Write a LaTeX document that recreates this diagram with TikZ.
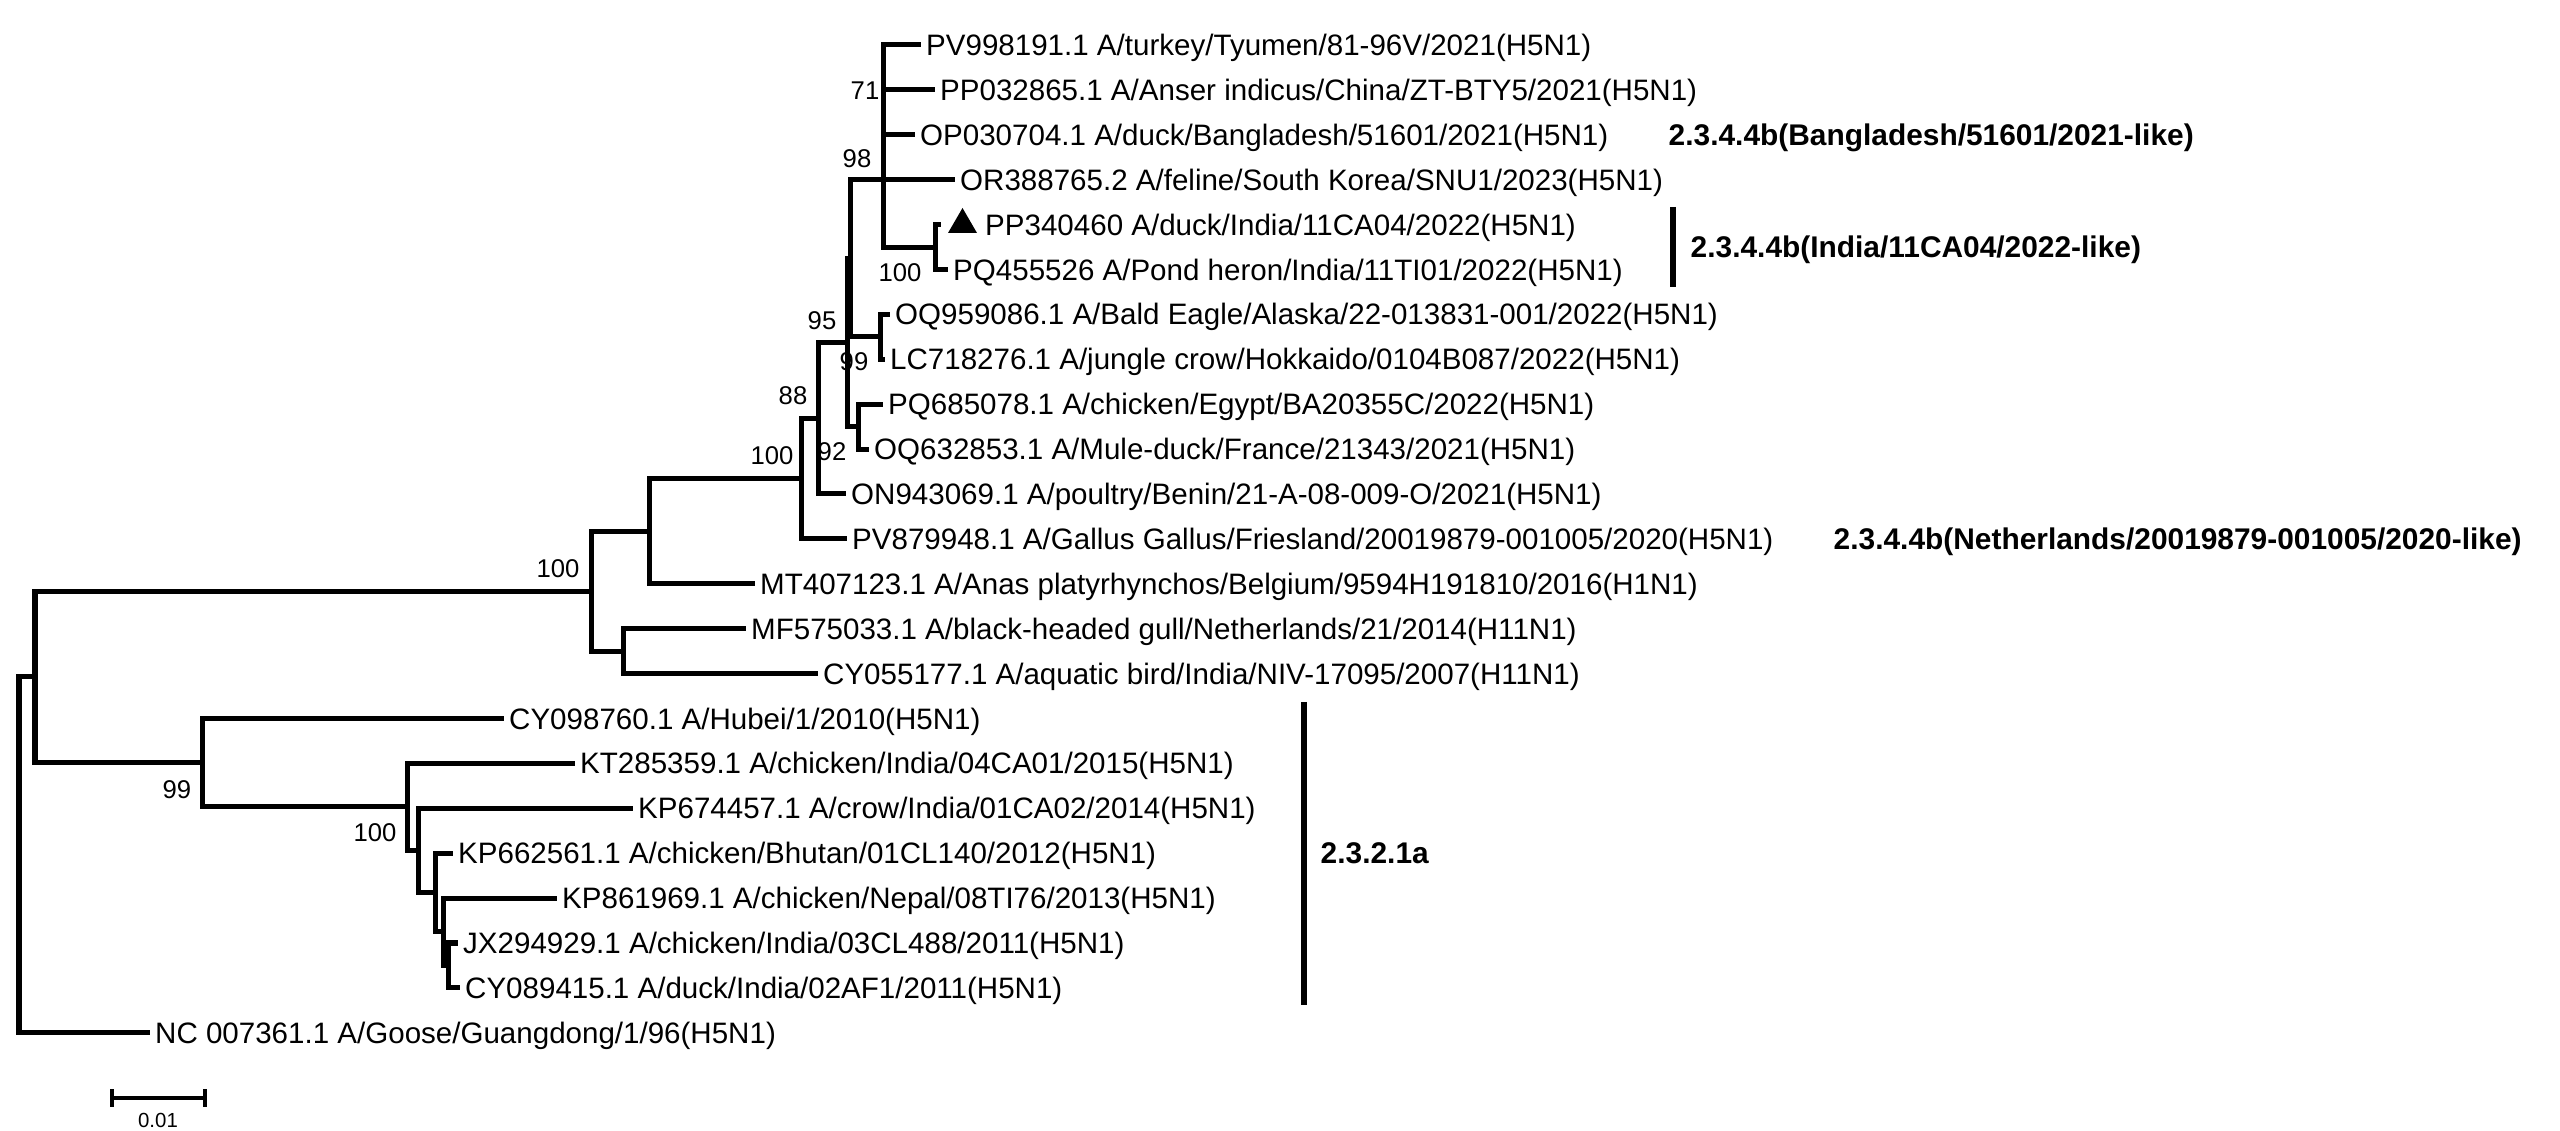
\documentclass[tikz,border=0pt]{standalone}
\usepackage{fontspec}
\setmainfont{Liberation Sans}
\usetikzlibrary{calc,positioning}

\begin{document}
\begin{tikzpicture}[x=0.01cm,y=-0.01cm]
    \newcommand*{\rowY}[1]{45+(#1-1)*44.9}
    \tikzstyle{branch}=[line width=0.05cm, line join=miter, line cap=rect];
    \tikzstyle{leaf}=[anchor=west, inner xsep=0.075cm, inner ysep=0pt, text height=6pt, text depth=0pt, font=\fontsize{8.4}{10}\selectfont];
    \tikzstyle{boot}=[inner sep=0pt, font=\fontsize{7.3}{9}\selectfont];
    \tikzstyle{clade}=[anchor=west, inner sep=0pt, text height=6.1pt, text depth=0pt, font=\fontsize{8.5}{10}\selectfont\bfseries];
    \tikzstyle{cladebar}=[line width=0.055cm];
    \tikzstyle{scalebar}=[line width=0.035cm];

    \useasboundingbox (0,0) rectangle (2560,1131);

    % internal nodes
    \coordinate (root) at (19,854.9);
    \coordinate (nA) at (35,676.95);
    \coordinate (nB) at (591,591.2);
    \coordinate (nC) at (649,531.2);
    \coordinate (nD) at (623,651.15);
    \coordinate (nE) at (801,478.6);
    \coordinate (nF) at (818,418.25);
    \coordinate (nG) at (847,342.5);
    \coordinate (nL) at (850,258.3);
    \coordinate (nK) at (883,179.7);
    \coordinate (nM) at (935,247.05);
    \coordinate (nH) at (880,336.85);
    \coordinate (nJ) at (858,426.65);
    \coordinate (nQ) at (202,762.7);
    \coordinate (nR) at (407,806.9);
    \coordinate (nS) at (418,850.4);
    \coordinate (nT) at (435,892.5);
    \coordinate (nU) at (443,931.8);
    \coordinate (nW) at (448,965.45);

    % leaves
    \node[leaf] (pv998) at (918,{\rowY{1}}) {PV998191.1 A/turkey/Tyumen/81-96V/2021(H5N1)};
    \node[leaf] (pp032) at (932,{\rowY{2}}) {PP032865.1 A/Anser indicus/China/ZT-BTY5/2021(H5N1)};
    \node[leaf] (op030) at (912,{\rowY{3}}) {OP030704.1 A/duck/Bangladesh/51601/2021(H5N1)};
    \node[leaf] (or388) at (952,{\rowY{4}}) {OR388765.2 A/feline/South Korea/SNU1/2023(H5N1)};
    \coordinate (pp340) at (938,{\rowY{5}});
    \node[leaf, right=0.39cm of pp340] (pp340txt) {PP340460 A/duck/India/11CA04/2022(H5N1)};
    \node[leaf] (pq455) at (945,{\rowY{6}}) {PQ455526 A/Pond heron/India/11TI01/2022(H5N1)};
    \node[leaf] (oq959) at (887,{\rowY{7}}) {OQ959086.1 A/Bald Eagle/Alaska/22-013831-001/2022(H5N1)};
    \node[leaf] (lc718) at (882,{\rowY{8}}) {LC718276.1 A/jungle crow/Hokkaido/0104B087/2022(H5N1)};
    \node[leaf] (pq685) at (880,{\rowY{9}}) {PQ685078.1 A/chicken/Egypt/BA20355C/2022(H5N1)};
    \node[leaf] (oq632) at (866,{\rowY{10}}) {OQ632853.1 A/Mule-duck/France/21343/2021(H5N1)};
    \node[leaf] (on943) at (843,{\rowY{11}}) {ON943069.1 A/poultry/Benin/21-A-08-009-O/2021(H5N1)};
    \node[leaf] (pv879) at (844,{\rowY{12}}) {PV879948.1 A/Gallus Gallus/Friesland/20019879-001005/2020(H5N1)};
    \node[leaf] (mt407) at (752,{\rowY{13}}) {MT407123.1 A/Anas platyrhynchos/Belgium/9594H191810/2016(H1N1)};
    \node[leaf] (mf575) at (743,{\rowY{14}}) {MF575033.1 A/black-headed gull/Netherlands/21/2014(H11N1)};
    \node[leaf] (cy055) at (815,{\rowY{15}}) {CY055177.1 A/aquatic bird/India/NIV-17095/2007(H11N1)};
    \node[leaf] (cy098) at (501,{\rowY{16}}) {CY098760.1 A/Hubei/1/2010(H5N1)};
    \node[leaf] (kt285) at (572,{\rowY{17}}) {KT285359.1 A/chicken/India/04CA01/2015(H5N1)};
    \node[leaf] (kp674) at (630,{\rowY{18}}) {KP674457.1 A/crow/India/01CA02/2014(H5N1)};
    \node[leaf] (kp662) at (450,{\rowY{19}}) {KP662561.1 A/chicken/Bhutan/01CL140/2012(H5N1)};
    \node[leaf] (kp861) at (554,{\rowY{20}}) {KP861969.1 A/chicken/Nepal/08TI76/2013(H5N1)};
    \node[leaf] (jx294) at (455,{\rowY{21}}) {JX294929.1 A/chicken/India/03CL488/2011(H5N1)};
    \node[leaf] (cy089) at (457,{\rowY{22}}) {CY089415.1 A/duck/India/02AF1/2011(H5N1)};
    \node[leaf] (nc007) at (147,{\rowY{23}}) {NC 007361.1 A/Goose/Guangdong/1/96(H5N1)};

    \fill (948,233) -- (977,233) -- (962.5,208) -- cycle;

    \foreach \p/\c in {root/nA, root/nc007.west, nA/nB, nA/nQ, nB/nC, nB/nD,
        nC/nE, nC/mt407.west, nD/mf575.west, nD/cy055.west, nE/nF, nE/pv879.west,
        nF/nG, nF/on943.west, nG/nL, nG/nJ, nL/nK, nL/nH,
        nK/pv998.west, nK/pp032.west, nK/op030.west, nK/or388.west, nK/nM,
        nM/pp340, nM/pq455.west, nH/oq959.west, nH/lc718.west,
        nJ/pq685.west, nJ/oq632.west, nQ/cy098.west, nQ/nR,
        nR/kt285.west, nR/nS, nS/kp674.west, nS/nT, nT/kp662.west, nT/nU,
        nU/kp861.west, nU/nW, nW/jx294.west, nW/cy089.west} {
      \draw[branch] (\p) |- (\c);
    }

    % bootstrap values
    \node[boot] (bs71) at (865,91) {71};
    \node[boot] (bs98) at (857,159) {98};
    \node[boot] (bsM) at (900,273) {100};
    \node[boot] (bs95) at (822,321) {95};
    \node[boot] (bsH) at (854,362) {99};
    \node[boot] (bs88) at (793,396) {88};
    \node[boot] (bs92) at (832,452) {92};
    \node[boot] (bsE) at (772,456) {100};
    \node[boot] (bsB) at (558,569) {100};
    \node[boot] (bsQ) at (177,790) {99};
    \node[boot] (bsR) at (375,833) {100};

    % clades
    \coordinate (barIt) at (1673,207);
    \coordinate (barIb) at (1673,287);
    \coordinate (barAt) at (1304,702);
    \coordinate (barAb) at (1304,1005);
    \draw[cladebar] (barIt) -- (barIb);
    \draw[cladebar] (barAt) -- (barAb);
    \node[clade] (cladeBd) at (1668,{\rowY{3}}) {2.3.4.4b(Bangladesh/51601/2021-like)};
    \node[clade] (cladeIn) at (1690,247) {2.3.4.4b(India/11CA04/2022-like)};
    \node[clade] (cladeNl) at (1833,{\rowY{12}}) {2.3.4.4b(Netherlands/20019879-001005/2020-like)};
    \node[clade] (cladeA) at (1320,853) {2.3.2.1a};

    % scale bar
    \coordinate (sbL) at (112,1098);
    \coordinate (sbR) at (205,1098);
    \draw[scalebar] (sbL) -- (sbR);
    \foreach \s in {sbL,sbR} {
      \draw[scalebar] ($(\s)+(0,-9)$) -- ($(\s)+(0,9)$);
    }
    \node[inner sep=0pt, font=\fontsize{5.8}{7}\selectfont] (sbtxt) at (158,1120) {0.01};
\end{tikzpicture}
\end{document}
